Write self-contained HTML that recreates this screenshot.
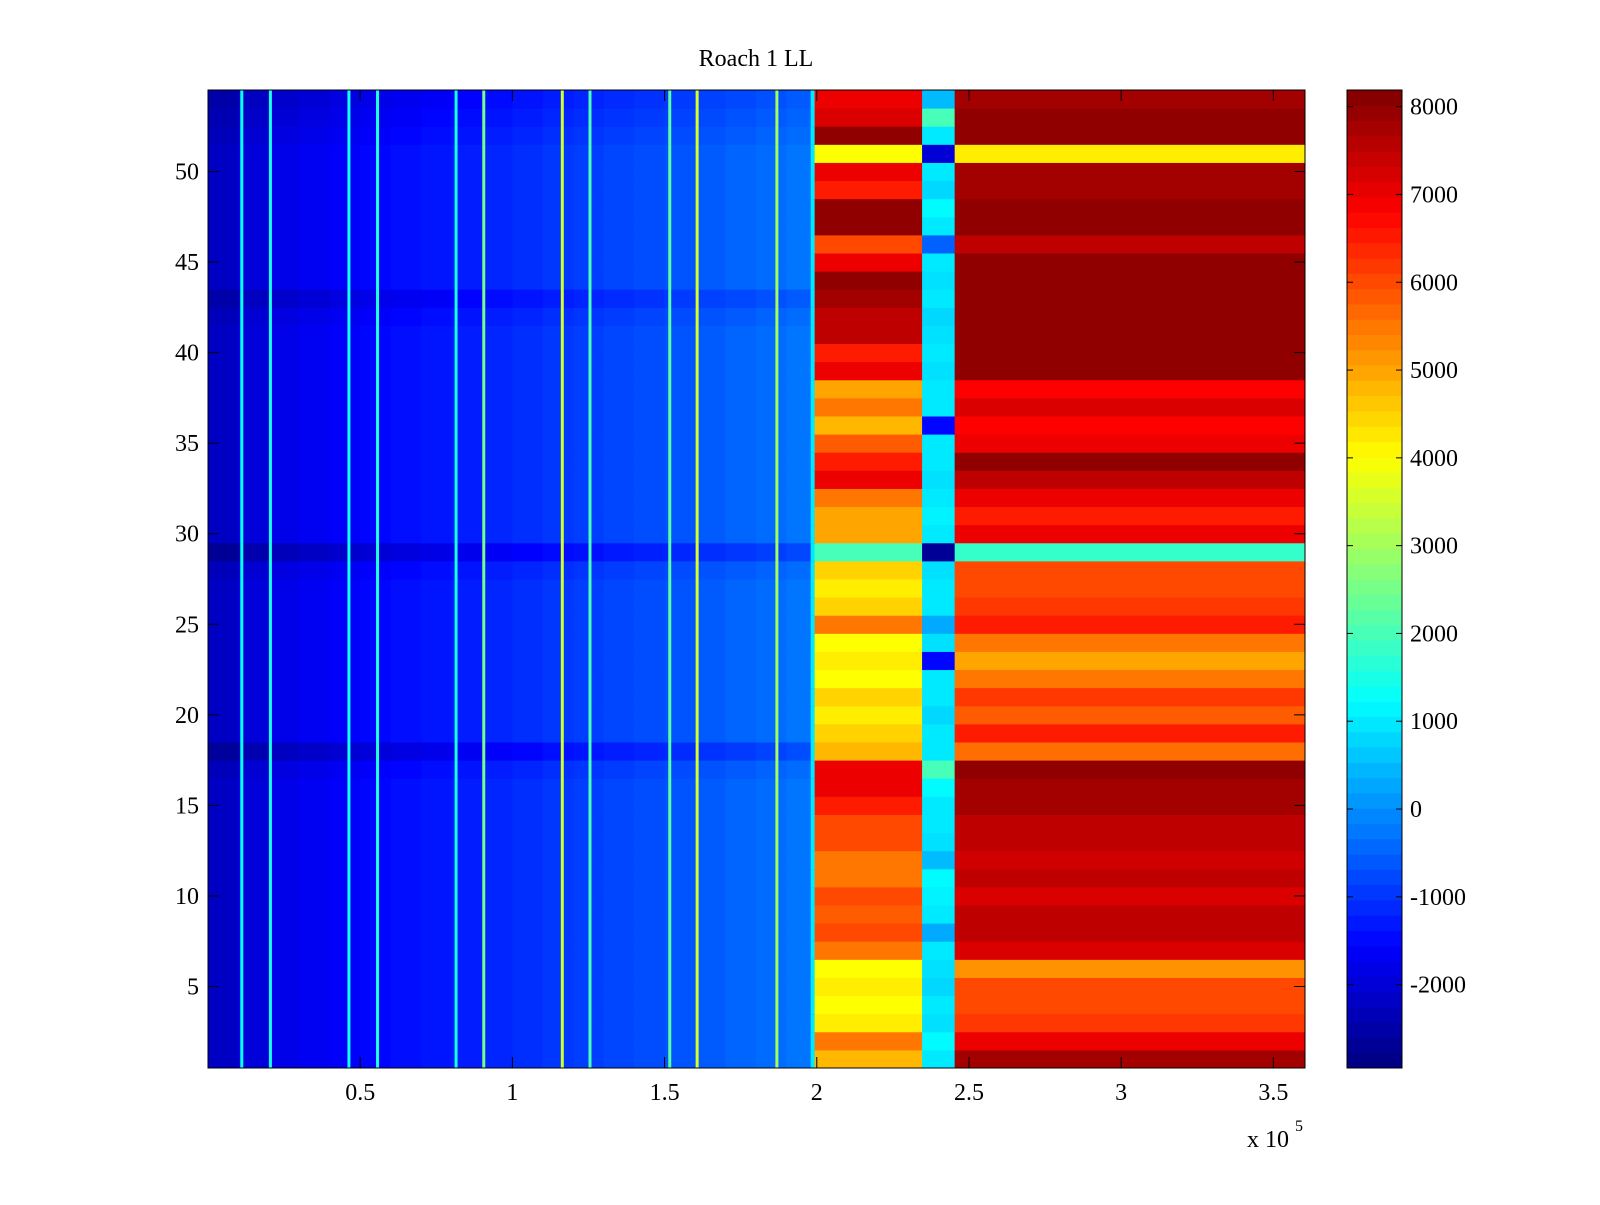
<!DOCTYPE html>
<html><head><meta charset="utf-8"><style>
body{margin:0;background:#fff;}
svg text{font-family:"Liberation Serif",serif;fill:#000;}
</style></head><body>
<svg id="chart" width="1600" height="1200" viewBox="0 0 1600 1200" xmlns="http://www.w3.org/2000/svg">
<rect width="1600" height="1200" fill="#fff"/>
<text x="756" y="66" font-size="24" text-anchor="middle">Roach 1 LL</text>
<g id="cells"></g>
<g id="axes"></g>
<g id="cbar"></g>
</svg>
<script>
// ---- data ----
const rowsCount = 54;
// Region A base values per 0.1e5 bin (0 .. 2.0e5)
const colBaseA = [-2200,-1950,-1800,-1700,-1600,-1500,-1420,-1330,-1250,-1150,-1060,-960,-880,-800,-720,-640,-560,-470,-380,-280];
// Row offsets for region A (row 1 .. 54)
const rowOffsetA = [0,0,0,0,0,0,0,0,0,0,0,0,0,0,0,0,-100,-450,0,0,0,0,0,0,0,0,0,-100,-500,0,0,0,0,0,0,0,0,0,0,0,0,-100,-300,0,0,0,0,0,0,0,0,-100,-200,-300];
// Bright stripe positions (x, 1e5 units) and values
const stripeX = [0.111,0.205,0.463,0.557,0.815,0.906,1.164,1.255,1.517,1.607,1.869];
const stripeVal = [1300,1500,1400,1600,1500,2500,3500,2000,2200,3600,3000];
// Region B (2.0-2.35e5) per row, row 1..54
const valB = [4800,5500,4200,4000,4200,4000,5500,6000,5800,6000,5500,5500,6000,6000,6500,7000,7000,4800,4500,4200,4500,4000,4200,4000,5500,4500,4200,4500,2000,5000,5000,5500,7000,6500,5800,4800,5500,5000,7000,6500,7500,7500,7800,8000,7000,6000,8000,8000,6500,7000,4000,8000,7200,7000];
// Narrow column (2.35-2.45e5) per row
const valN = [1000,1200,900,1000,800,900,1000,300,1000,1100,1200,500,900,1000,1000,1200,2000,1000,1000,800,1000,1000,-1500,900,300,1000,1000,900,-2700,1000,1100,1000,900,1000,1000,-1500,1000,1000,900,1000,900,800,1000,900,1000,-500,1000,1200,800,1000,-2000,1000,2000,500];
// Region C (2.45-3.6e5) per row
const valC = [7800,7000,6200,6000,6000,5200,7200,7500,7500,7200,7500,7300,7500,7500,7800,7800,8000,5600,6500,5800,6200,5500,5000,5500,6500,6200,6000,6000,1800,7000,6500,7000,7500,8000,7000,6800,7200,6800,8000,8000,8000,8000,8000,8000,8000,7500,8000,8000,7800,7800,4200,8000,8000,7800];
// ticks
const xTicks = [0.5,1,1.5,2,2.5,3,3.5];
const xTickLabels = ["0.5","1","1.5","2","2.5","3","3.5"];
const yTicks = [5,10,15,20,25,30,35,40,45,50];
const cTicks = [-2000,-1000,0,1000,2000,3000,4000,5000,6000,7000,8000];

// ---- scales ----
const PX0=208, PX1=1305, PY0=90, PY1=1068;
const XMAX=3.604, CMIN=-2950, CMAX=8190;
const sx = v => PX0 + v/XMAX*(PX1-PX0);
const sy = r => PY1 - (r-0.5)/rowsCount*(PY1-PY0);
function jet(v){
  let t=(v-CMIN)/(CMAX-CMIN); t=Math.max(0,Math.min(1,t));
  const f=x=>Math.max(0,Math.min(1,x));
  const r=f(1.5-Math.abs(4*t-3)), g=f(1.5-Math.abs(4*t-2)), b=f(1.5-Math.abs(4*t-1));
  return `rgb(${Math.round(r*255)},${Math.round(g*255)},${Math.round(b*255)})`;
}
const NS="http://www.w3.org/2000/svg";
const cells=document.getElementById('cells');
function rect(x0,x1,r,v,name){
  const el=document.createElementNS(NS,'rect');
  el.setAttribute('x',sx(x0)); el.setAttribute('width',sx(x1)-sx(x0)+0.5);
  el.setAttribute('y',sy(r+0.5)); el.setAttribute('height',sy(r-0.5)-sy(r+0.5)+0.5);
  el.setAttribute('fill',jet(v));
  
  
  cells.appendChild(el);
}
for(let r=1;r<=rowsCount;r++){
  for(let i=0;i<colBaseA.length;i++){
    const x0=i*0.1, x1=Math.min((i+1)*0.1,1.993);
    rect(x0,x1,r,colBaseA[i]+rowOffsetA[r-1],'cell-a');
  }
  rect(1.98,1.993,r,1000,'cell-edge');
  rect(1.993,2.346,r,valB[r-1],'cell-b');
  rect(2.346,2.453,r,valN[r-1],'cell-n');
  rect(2.453,XMAX,r,valC[r-1],'cell-c');
}
stripeX.forEach((x,i)=>{
  const el=document.createElementNS(NS,'rect');
  el.setAttribute('x',sx(x)-1.5); el.setAttribute('width',3);
  el.setAttribute('y',PY0); el.setAttribute('height',PY1-PY0);
  el.setAttribute('fill',jet(stripeVal[i]));
  
  
  cells.appendChild(el);
});
// axes
const axes=document.getElementById('axes');
let h=`<rect x="${PX0}" y="${PY0}" width="${PX1-PX0}" height="${PY1-PY0}" fill="none" stroke="#000" stroke-width="1"/>`;
xTicks.forEach((t,i)=>{const x=sx(t);
  h+=`<line x1="${x}" y1="${PY1}" x2="${x}" y2="${PY1-11}" stroke="#000"/><line x1="${x}" y1="${PY0}" x2="${x}" y2="${PY0+11}" stroke="#000"/>`;
  h+=`<text x="${x}" y="${PY1+32}" font-size="24" text-anchor="middle">${xTickLabels[i]}</text>`;});
yTicks.forEach(t=>{const y=sy(t);
  h+=`<line x1="${PX0}" y1="${y}" x2="${PX0+11}" y2="${y}" stroke="#000"/><line x1="${PX1}" y1="${y}" x2="${PX1-11}" y2="${y}" stroke="#000"/>`;
  h+=`<text x="${PX0-9}" y="${y+8}" font-size="24" text-anchor="end">${t}</text>`;});
h+=`<text x="1247" y="1147" font-size="24">x 10</text><text x="1295" y="1131" font-size="16">5</text>`;
axes.innerHTML=h;
// colorbar
const cb=document.getElementById('cbar');
const CX0=1347, CX1=1402;
const cy = v => PY1 - (v-CMIN)/(CMAX-CMIN)*(PY1-PY0);
let c='';
for(let k=0;k<64;k++){
  const v0=CMIN+k*(CMAX-CMIN)/64, v1=CMIN+(k+1)*(CMAX-CMIN)/64;
  c+=`<rect x="${CX0}" y="${cy(v1)}" width="${CX1-CX0}" height="${cy(v0)-cy(v1)+0.5}" fill="${jet((v0+v1)/2)}"/>`;
}
c+=`<rect x="${CX0}" y="${PY0}" width="${CX1-CX0}" height="${PY1-PY0}" fill="none" stroke="#000"/>`;
cTicks.forEach(t=>{const y=cy(t);
  c+=`<line x1="${CX0}" y1="${y}" x2="${CX0+6}" y2="${y}" stroke="#000"/><line x1="${CX1}" y1="${y}" x2="${CX1-6}" y2="${y}" stroke="#000"/>`;
  c+=`<text x="${CX1+8}" y="${y+8}" font-size="24">${t}</text>`;});
cb.innerHTML=c;
</script>
</body></html>
